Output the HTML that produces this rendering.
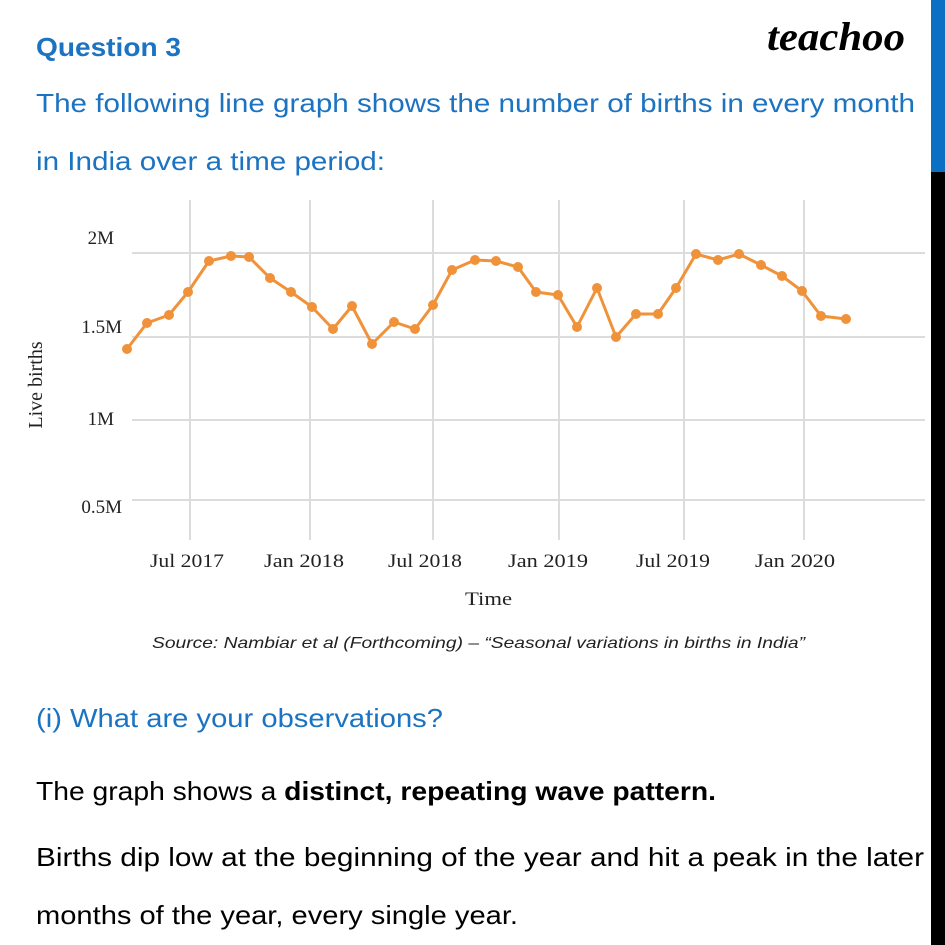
<!DOCTYPE html>
<html><head><meta charset="utf-8"><style>
html,body{margin:0;padding:0;background:#fff;}
body{width:945px;height:945px;overflow:hidden;position:relative;}
svg{position:absolute;left:0;top:0;}
.c{font-family:"Liberation Sans","DejaVu Sans",sans-serif;}
.s{font-family:"Liberation Serif",serif;}
</style></head><body>
<svg width="945" height="945" viewBox="0 0 945 945">
<rect x="931" y="0" width="14" height="172" fill="#0b6fc4"/>
<rect x="931" y="172" width="14" height="773" fill="#000"/>
<text x="36" y="56" class="c" font-size="26" font-weight="bold" fill="#1b73c1" textLength="145" lengthAdjust="spacingAndGlyphs">Question 3</text>
<text x="767" y="50" class="s" font-size="40" font-weight="bold" font-style="italic" fill="#000" textLength="138" lengthAdjust="spacingAndGlyphs">teachoo</text>
<text x="36" y="112" class="c" font-size="26" fill="#1b73c1" textLength="879" lengthAdjust="spacingAndGlyphs">The following line graph shows the number of births in every month</text>
<text x="36" y="170" class="c" font-size="26" fill="#1b73c1" textLength="349" lengthAdjust="spacingAndGlyphs">in India over a time period:</text>
<g stroke="#dcdcdc" stroke-width="2">
<line x1="132" y1="253" x2="925" y2="253"/><line x1="132" y1="337" x2="925" y2="337"/>
<line x1="132" y1="420" x2="925" y2="420"/><line x1="132" y1="500" x2="925" y2="500"/>
<line x1="190" y1="200" x2="190" y2="540"/><line x1="310" y1="200" x2="310" y2="540"/>
<line x1="433" y1="200" x2="433" y2="540"/><line x1="559" y1="200" x2="559" y2="540"/>
<line x1="684" y1="200" x2="684" y2="540"/><line x1="804" y1="200" x2="804" y2="540"/>
</g>
<g class="s" font-size="19" fill="#222" text-anchor="end">
<text x="114" y="244">2M</text><text x="122" y="333">1.5M</text>
<text x="114" y="425">1M</text><text x="122" y="513">0.5M</text>
</g>
<text transform="translate(42,385) rotate(-90)" class="s" font-size="20" fill="#222" text-anchor="middle">Live births</text>
<g class="s" font-size="19" fill="#222">
<text x="150" y="567" textLength="74" lengthAdjust="spacingAndGlyphs">Jul 2017</text>
<text x="264" y="567" textLength="80" lengthAdjust="spacingAndGlyphs">Jan 2018</text>
<text x="388" y="567" textLength="74" lengthAdjust="spacingAndGlyphs">Jul 2018</text>
<text x="508" y="567" textLength="80" lengthAdjust="spacingAndGlyphs">Jan 2019</text>
<text x="636" y="567" textLength="74" lengthAdjust="spacingAndGlyphs">Jul 2019</text>
<text x="755" y="567" textLength="80" lengthAdjust="spacingAndGlyphs">Jan 2020</text>
<text x="465" y="605" textLength="47" lengthAdjust="spacingAndGlyphs">Time</text>
</g>
<text x="152" y="648" class="c" font-size="16" font-style="italic" fill="#222" textLength="653" lengthAdjust="spacingAndGlyphs">Source: Nambiar et al (Forthcoming) – “Seasonal variations in births in India”</text>
<polyline fill="none" stroke="#f0923a" stroke-width="3" stroke-linejoin="round" points="127,349 147,323 169,315 188,292 209,261 231,256 249,257 270,278 291,292 312,307 333,329 352,306 372,344 394,322 415,329 433,305 452,270 475,260 496,261 518,267 536,292 558,295 577,327 597,288 616,337 636,314 658,314 676,288 696,254 718,260 739,254 761,265 782,276 802,291 821,316 846,319"/>
<g fill="#f0923a">
<circle cx="127" cy="349" r="5"/><circle cx="147" cy="323" r="5"/><circle cx="169" cy="315" r="5"/><circle cx="188" cy="292" r="5"/><circle cx="209" cy="261" r="5"/><circle cx="231" cy="256" r="5"/><circle cx="249" cy="257" r="5"/><circle cx="270" cy="278" r="5"/><circle cx="291" cy="292" r="5"/><circle cx="312" cy="307" r="5"/><circle cx="333" cy="329" r="5"/><circle cx="352" cy="306" r="5"/><circle cx="372" cy="344" r="5"/><circle cx="394" cy="322" r="5"/><circle cx="415" cy="329" r="5"/><circle cx="433" cy="305" r="5"/><circle cx="452" cy="270" r="5"/><circle cx="475" cy="260" r="5"/><circle cx="496" cy="261" r="5"/><circle cx="518" cy="267" r="5"/><circle cx="536" cy="292" r="5"/><circle cx="558" cy="295" r="5"/><circle cx="577" cy="327" r="5"/><circle cx="597" cy="288" r="5"/><circle cx="616" cy="337" r="5"/><circle cx="636" cy="314" r="5"/><circle cx="658" cy="314" r="5"/><circle cx="676" cy="288" r="5"/><circle cx="696" cy="254" r="5"/><circle cx="718" cy="260" r="5"/><circle cx="739" cy="254" r="5"/><circle cx="761" cy="265" r="5"/><circle cx="782" cy="276" r="5"/><circle cx="802" cy="291" r="5"/><circle cx="821" cy="316" r="5"/><circle cx="846" cy="319" r="5"/>
</g>
<text x="36" y="727" class="c" font-size="26" fill="#1b73c1" textLength="407" lengthAdjust="spacingAndGlyphs">(i) What are your observations?</text>
<text x="36" y="800" class="c" font-size="26" fill="#000" textLength="680" lengthAdjust="spacingAndGlyphs">The graph shows a <tspan font-weight="bold">distinct, repeating wave pattern.</tspan></text>
<text x="36" y="866" class="c" font-size="26" fill="#000" textLength="888" lengthAdjust="spacingAndGlyphs">Births dip low at the beginning of the year and hit a peak in the later</text>
<text x="36" y="924" class="c" font-size="26" fill="#000" textLength="482" lengthAdjust="spacingAndGlyphs">months of the year, every single year.</text>
</svg>
</body></html>
